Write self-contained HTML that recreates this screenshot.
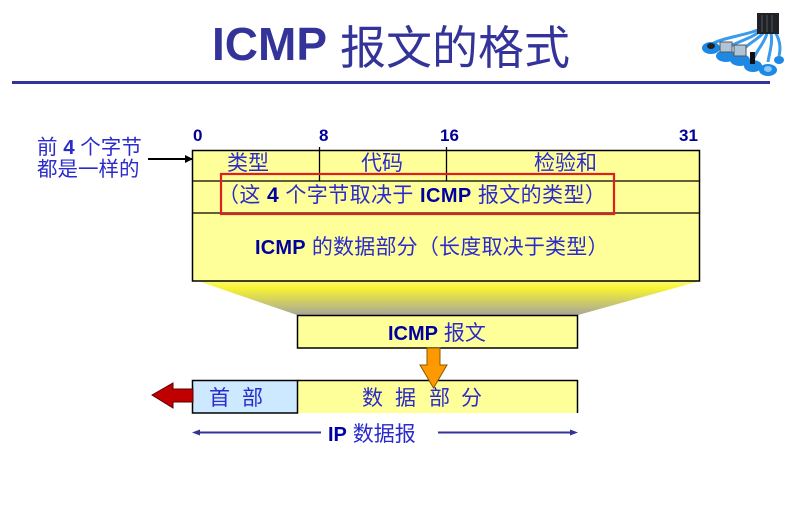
<!DOCTYPE html>
<html>
<head>
<meta charset="utf-8">
<style>
html,body{margin:0;padding:0;background:#fff;}
body{width:798px;height:510px;position:relative;overflow:hidden;font-family:"Liberation Sans","Noto Sans CJK SC",sans-serif;}
.t{position:absolute;white-space:nowrap;}
.c{color:#2b2bcc;font-size:21px;}
.b{font-weight:bold;color:#0000a0;}
.title{left:212px;top:14px;height:60px;line-height:60px;font-size:46px;color:#333399;}
</style>
</head>
<body>
<svg width="798" height="510" style="position:absolute;left:0;top:0">
  <defs>
    <linearGradient id="tg" x1="0" y1="0" x2="0" y2="1">
      <stop offset="0" stop-color="#faf77a"/>
      <stop offset="0.2" stop-color="#f8f432"/>
      <stop offset="1" stop-color="#a6a59a"/>
    </linearGradient>
    <marker id="ah" markerWidth="8" markerHeight="8" refX="7" refY="4" orient="auto" markerUnits="userSpaceOnUse">
      <path d="M0,0 L8,4 L0,8 z" fill="#000"/>
    </marker>
  </defs>
  <!-- title rule -->
  <rect x="12" y="81" width="758" height="3" fill="#333399"/>

  <!-- icon -->
  <g>
    <path d="M758,30 C742,36 722,38 712,44" stroke="#3b9bea" stroke-width="3" fill="none"/>
    <path d="M760,31 C750,40 733,42 726,50" stroke="#3b9bea" stroke-width="3" fill="none"/>
    <path d="M764,32 C758,40 746,44 742,52" stroke="#3b9bea" stroke-width="3" fill="none"/>
    <path d="M767,33 C765,42 757,50 754,58" stroke="#3b9bea" stroke-width="3" fill="none"/>
    <path d="M771,33 C773,44 769,54 768,62" stroke="#3b9bea" stroke-width="3" fill="none"/>
    <path d="M775,32 C780,40 781,48 779,56" stroke="#3b9bea" stroke-width="3" fill="none"/>
    <rect x="757" y="13" width="22" height="21" fill="#1f2328"/>
    <line x1="762" y1="15" x2="762" y2="32" stroke="#555" stroke-width="1"/>
    <line x1="767" y1="15" x2="767" y2="32" stroke="#555" stroke-width="1"/>
    <line x1="772" y1="15" x2="772" y2="32" stroke="#555" stroke-width="1"/>
    <ellipse cx="711" cy="48" rx="9" ry="6" fill="#1e88e5"/>
    <ellipse cx="711" cy="46" rx="4" ry="3" fill="#222"/>
    <ellipse cx="726" cy="56" rx="10" ry="6" fill="#1e88e5"/>
    <rect x="720" y="42" width="12" height="10" fill="#b0c4d8" stroke="#555" stroke-width="1"/>
    <ellipse cx="740" cy="60" rx="10" ry="6" fill="#1e88e5"/>
    <rect x="734" y="45" width="12" height="11" fill="#b0c4d8" stroke="#555" stroke-width="1"/>
    <ellipse cx="753" cy="66" rx="9" ry="6" fill="#1e88e5"/>
    <rect x="750" y="52" width="5" height="12" fill="#111"/>
    <ellipse cx="768" cy="70" rx="9" ry="6" fill="#1e88e5"/>
    <ellipse cx="768" cy="69" rx="4" ry="3" fill="#8cc8f5"/>
    <ellipse cx="779" cy="60" rx="5" ry="4" fill="#1e88e5"/>
  </g>

  <!-- left label arrow -->
  <line x1="148" y1="159" x2="192" y2="159" stroke="#000" stroke-width="2" marker-end="url(#ah)"/>

  <!-- trapezoid -->
  <polygon points="198,281 700,281 578,315 297,315" fill="url(#tg)"/>

  <!-- main box -->
  <rect x="192.5" y="150.5" width="507" height="130.5" fill="#ffff99" stroke="#000" stroke-width="1.5"/>
  <line x1="192" y1="181" x2="700" y2="181" stroke="#000" stroke-width="1.3"/>
  <line x1="192" y1="213" x2="700" y2="213" stroke="#000" stroke-width="1.3"/>
  <line x1="319.5" y1="147" x2="319.5" y2="181" stroke="#000" stroke-width="1.3"/>
  <line x1="446.5" y1="147" x2="446.5" y2="181" stroke="#000" stroke-width="1.3"/>
  <!-- red box -->
  <rect x="221" y="174" width="393" height="40" fill="none" stroke="#e02020" stroke-width="2.2"/>

  <!-- ICMP message box -->
  <rect x="297.5" y="315.5" width="280" height="32.5" fill="#ffff99" stroke="#000" stroke-width="1.5"/>

  <!-- bottom box -->
  <rect x="297" y="380" width="280" height="33" fill="#ffff99"/>
  <line x1="297" y1="380.5" x2="578" y2="380.5" stroke="#000" stroke-width="1.5"/>
  <line x1="577.5" y1="380" x2="577.5" y2="413" stroke="#000" stroke-width="1.5"/>
  <rect x="192.5" y="380.5" width="105" height="32.5" fill="#cce9ff" stroke="#000" stroke-width="1.5"/>

  <!-- orange arrow -->
  <polygon points="427,348 440,348 440,365 447,365 433.5,388 420,365 427,365" fill="#ff9900" stroke="#8a5a00" stroke-width="1"/>

  <!-- red arrow -->
  <polygon points="152,395 173,383 173,389 193,389 193,402 173,402 173,408" fill="#c00000" stroke="#5a0000" stroke-width="1"/>

  <!-- IP datagram arrows -->
  <line x1="196" y1="432.5" x2="321" y2="432.5" stroke="#333399" stroke-width="2"/>
  <polygon points="192,432.5 200,429.5 200,435.5" fill="#333399"/>
  <line x1="438" y1="432.5" x2="574" y2="432.5" stroke="#333399" stroke-width="2"/>
  <polygon points="578,432.5 570,429.5 570,435.5" fill="#333399"/>
</svg>

<!-- title -->
<div class="t title"><span style="font-weight:bold">ICMP</span></div>
<div class="t" style="left:340px;top:15px;height:60px;line-height:60px;font-size:46px;color:#333399;font-family:'Noto Sans CJK SC',sans-serif;">报文的格式</div>

<!-- left label -->
<div class="t" style="left:37px;top:136px;line-height:24px;font-size:20.5px;color:#2b2bcc;">前 <b>4</b> 个字节</div>
<div class="t" style="left:37px;top:158px;line-height:24px;font-size:20.5px;color:#2b2bcc;">都是一样的</div>

<!-- bit numbers -->
<div class="t b" style="left:193px;top:125px;line-height:22px;font-size:17px;color:#000099;">0</div>
<div class="t b" style="left:319px;top:125px;line-height:22px;font-size:17px;color:#000099;">8</div>
<div class="t b" style="left:440px;top:125px;line-height:22px;font-size:17px;color:#000099;">16</div>
<div class="t b" style="left:679px;top:125px;line-height:22px;font-size:17px;color:#000099;">31</div>

<!-- row 1 -->
<div class="t c" style="left:227px;top:152px;line-height:24px;">类型</div>
<div class="t c" style="left:361px;top:152px;line-height:24px;">代码</div>
<div class="t c" style="left:534px;top:152px;line-height:24px;">检验和</div>

<!-- row 2 -->
<div class="t c" style="left:218px;top:184px;line-height:24px;letter-spacing:0.4px;">（这 <b style="color:#0000a0">4</b> 个字节取决于 <span class="b" style="font-size:20px">ICMP</span> 报文的类型）</div>

<!-- row 3 -->
<div class="t c" style="left:255px;top:236px;line-height:24px;letter-spacing:0.2px;"><span class="b" style="font-size:20px">ICMP</span> 的数据部分（长度取决于类型）</div>

<!-- ICMP message -->
<div class="t c" style="left:388px;top:322px;line-height:24px;"><span class="b" style="font-size:20px">ICMP</span> 报文</div>

<!-- header / data -->
<div class="t c" style="left:209px;top:387px;line-height:24px;">首</div>
<div class="t c" style="left:242px;top:387px;line-height:24px;">部</div>
<div class="t c" style="left:362px;top:387px;line-height:24px;">数</div>
<div class="t c" style="left:395px;top:387px;line-height:24px;">据</div>
<div class="t c" style="left:429px;top:387px;line-height:24px;">部</div>
<div class="t c" style="left:461px;top:387px;line-height:24px;">分</div>

<!-- IP datagram -->
<div class="t c" style="left:328px;top:423px;line-height:24px;"><span class="b" style="font-size:20px">IP</span> 数据报</div>
</body>
</html>
